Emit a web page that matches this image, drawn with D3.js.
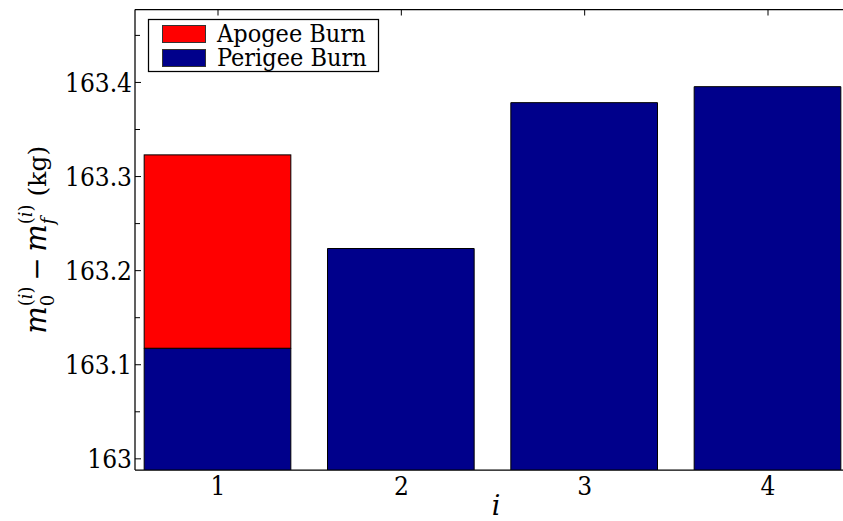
<!DOCTYPE html>
<html>
<head>
<meta charset="utf-8">
<script src="https://cdn.jsdelivr.net/npm/d3@7"></script>
<style>
  html, body { margin: 0; padding: 0; background: #fff; }
  svg { display: block; }
</style>
</head>
<body>
<svg id="chart" width="843" height="521"></svg>
<script>
// ---- data ----
const categories = [1, 2, 3, 4];
const perigeeBurn = [163.117, 163.223, 163.378, 163.395];
const apogeeBurn  = [0.2055, 0, 0, 0];
const seriesNames = ["Apogee Burn", "Perigee Burn"];
const seriesColors = ["#ff0000", "#00008b"];
const yMajorTicks = [163, 163.1, 163.2, 163.3, 163.4];
const yTickLabels = ["163", "163.1", "163.2", "163.3", "163.4"];
const yMinorTicks = [163.05, 163.15, 163.25, 163.35, 163.45];

// ---- layout ----
(function () {
const FONT = "'DejaVu Serif Condensed', 'DejaVu Serif', serif";
const MFONT = "'DejaVu Serif', serif";
const svg = d3.select("#chart");
const pL = 135, pT = 9.5, pB = 470, pR = 850;
const x = d3.scaleLinear().domain([0.55, 4.45]).range([pL, pR]);
const y = d3.scaleLinear().domain([162.9876, 163.477]).range([pB, pT]);
const barW = 0.8;

svg.append("defs").append("clipPath").attr("id", "plotclip")
  .append("rect").attr("x", pL).attr("y", pT)
  .attr("width", pR - pL).attr("height", pB - pT);

// stacked data
const rows = categories.map((c, i) => ({ cat: c, perigee: perigeeBurn[i], apogee: apogeeBurn[i] }));
const stacked = d3.stack().keys(["perigee", "apogee"])(rows);
const colorFor = { perigee: seriesColors[1], apogee: seriesColors[0] };

const plot = svg.append("g").attr("clip-path", "url(#plotclip)");
stacked.forEach(layer => {
  plot.append("g").selectAll("rect")
    .data(layer.filter(d => d[1] - d[0] > 0))
    .join("rect")
    .attr("x", d => x(d.data.cat - barW / 2))
    .attr("width", d => x(d.data.cat + barW / 2) - x(d.data.cat - barW / 2))
    .attr("y", d => y(d[1]))
    .attr("height", d => Math.max(0, y(d[0]) - y(d[1])))
    .attr("fill", colorFor[layer.key])
    .attr("stroke", "#000")
    .attr("stroke-width", 1);
});

// frame
const frame = svg.append("g").attr("stroke", "#000").attr("stroke-width", 1.25).attr("fill", "none");
frame.append("line").attr("x1", pL).attr("x2", pL).attr("y1", pT).attr("y2", pB);
frame.append("line").attr("x1", pL).attr("x2", pR).attr("y1", pT).attr("y2", pT);
frame.append("line").attr("x1", pL).attr("x2", pR).attr("y1", pB).attr("y2", pB);
frame.append("line").attr("x1", pR).attr("x2", pR).attr("y1", pT).attr("y2", pB);

// y axis (ticks inward)
const yAxis = d3.axisRight(y).tickValues(yMajorTicks)
  .tickFormat((d, i) => yTickLabels[i]).tickSize(6);
const yg = svg.append("g").attr("transform", `translate(${pL},0)`).call(yAxis);
yg.select(".domain").remove();
yg.selectAll(".tick line").attr("stroke", "#000").attr("stroke-width", 1);
yg.selectAll(".tick text")
  .attr("x", -3).attr("text-anchor", "end")
  .style("font-family", FONT).style("font-size", "26px").attr("fill", "#000")
  .attr("dy", "0.36em");
const ymg = svg.append("g").attr("transform", `translate(${pL},0)`)
  .call(d3.axisRight(y).tickValues(yMinorTicks).tickSize(5).tickFormat(""));
ymg.select(".domain").remove();
ymg.selectAll(".tick line").attr("stroke", "#000").attr("stroke-width", 1);

// top x ticks (inward)
const xt = svg.append("g").attr("transform", `translate(0,${pT})`)
  .call(d3.axisBottom(x).tickValues(categories).tickSize(6).tickFormat(""));
xt.select(".domain").remove();
xt.selectAll(".tick line").attr("stroke", "#000").attr("stroke-width", 1);

// bottom x labels
const xb = svg.append("g").attr("transform", `translate(0,${pB})`)
  .call(d3.axisBottom(x).tickValues(categories).tickSize(0).tickFormat(d3.format("d")));
xb.select(".domain").remove();
xb.selectAll(".tick text").style("font-family", FONT).style("font-size", "26px")
  .attr("fill", "#000").attr("y", 0).attr("dy", 25);

// x label
svg.append("text").attr("x", 496).attr("y", 515)
  .attr("text-anchor", "middle").style("font-family", MFONT).style("font-size", "27px")
  .style("font-style", "italic").text("i");

// y label built from pieces
const yl = svg.append("g");
const pieces = [
  { t: "m", s: 29, it: true, dy: 0 },
  { t: "(", s: 18, it: false, dy: -14, group: true },
  { t: "i", s: 18, it: true, dy: -14, group: true },
  { t: ")", s: 18, it: false, dy: -14, group: true, end: true, sub: "0" },
  { t: "\u2009\u2212\u2009", s: 28, it: false, dy: 0 },
  { t: "m", s: 29, it: true, dy: 0 },
  { t: "(", s: 18, it: false, dy: -14, group: true },
  { t: "i", s: 18, it: true, dy: -14, group: true },
  { t: ")", s: 18, it: false, dy: -14, group: true, end: true, sub: "f" },
  { t: "\u00a0(kg)", s: 25, it: false, dy: 0 }
];
let cx = 0, groupStart = null;
pieces.forEach(p => {
  if (p.group && groupStart === null) groupStart = cx;
  const t = yl.append("text").attr("x", cx).attr("y", p.dy)
    .style("font-family", MFONT).style("font-size", p.s + "px")
    .style("font-style", p.it ? "italic" : "normal")
    .text(p.t);
  cx += t.node().getComputedTextLength();
  if (p.end) {
    const s = yl.append("text").attr("x", groupStart).attr("y", 8)
      .style("font-family", MFONT).style("font-size", "18px")
      .style("font-style", p.sub === "f" ? "italic" : "normal").text(p.sub);
    cx = Math.max(cx, groupStart + s.node().getComputedTextLength());
    groupStart = null;
  }
});
yl.attr("transform", `translate(46,${(pT + pB) / 2}) rotate(-90) translate(${-cx / 2},0)`);

// legend
const lg = svg.append("g");
lg.append("rect").attr("x", 148.5).attr("y", 19.5).attr("width", 230).attr("height", 52)
  .attr("fill", "#fff").attr("stroke", "#000").attr("stroke-width", 1.25);
seriesNames.forEach((name, i) => {
  lg.append("rect").attr("x", 162.5).attr("y", 25.5 + i * 24).attr("width", 43).attr("height", 17)
    .attr("fill", seriesColors[i]).attr("stroke", "#333").attr("stroke-width", 1);
  lg.append("text").attr("x", 217).attr("y", 42 + i * 23.5)
    .style("font-family", FONT).style("font-size", "25px").text(name);
});
})();
</script>
</body>
</html>
